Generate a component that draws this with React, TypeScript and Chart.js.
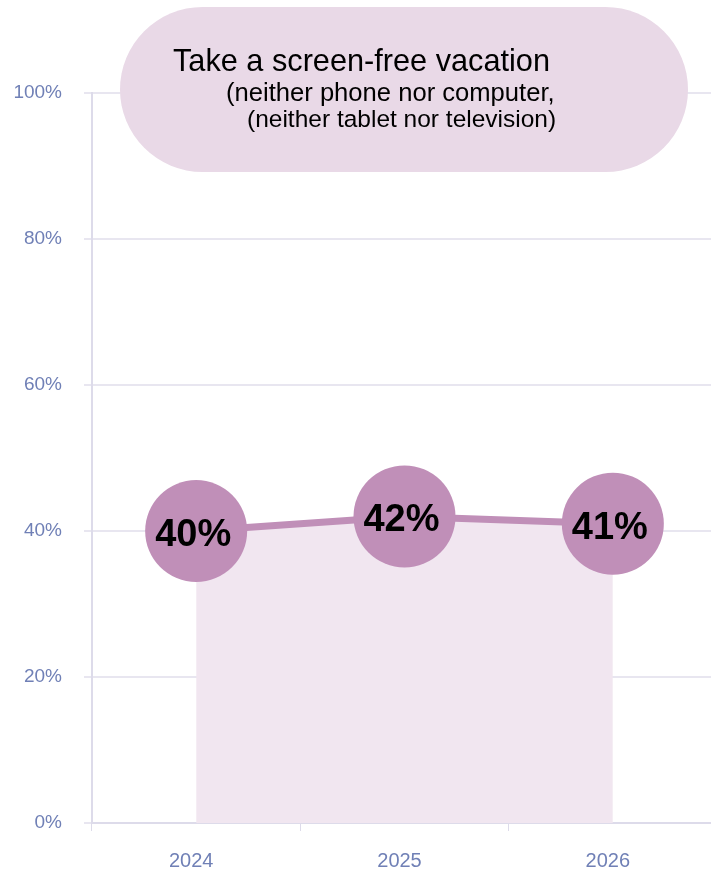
import React, { useEffect, useRef } from "react";
import { Chart, registerables } from "chart.js";

Chart.register(...registerables);

const categories: string[] = ["2024", "2025", "2026"];
const values: number[] = [40, 42, 41];
const yTickValues: number[] = [0, 20, 40, 60, 80, 100];
const titleLines: string[] = [
  "Take a screen-free vacation",
  "(neither phone nor computer,",
  "(neither tablet nor television)",
];

const FONT = '"Liberation Sans", Arial, Helvetica, sans-serif';
const AXIS_COLOR = "#7080b6";
const GRID_COLOR = "#e8e6f0";
const MAUVE = "#c08fb8";

const pillPlugin = {
  id: "pill",
  afterDraw(chart: any) {
    const ctx = chart.ctx;
    ctx.save();
    const x = 120, y = 7, w = 568, h = 165;
    ctx.fillStyle = "#e9d9e7";
    ctx.beginPath();
    (ctx as any).roundRect(x, y, w, h, h / 2);
    ctx.fill();
    ctx.fillStyle = "#000000";
    ctx.textBaseline = "alphabetic";
    ctx.textAlign = "left";
    ctx.font = `30.7px ${FONT}`;
    ctx.fillText(titleLines[0], 173, 71);
    ctx.font = `25.6px ${FONT}`;
    ctx.fillText(titleLines[1], 226, 101);
    ctx.font = `24.5px ${FONT}`;
    ctx.fillText(titleLines[2], 247, 127);
    ctx.restore();
  },
};

const labelPlugin = {
  id: "pointLabels",
  afterDatasetsDraw(chart: any) {
    const ctx = chart.ctx;
    const meta = chart.getDatasetMeta(0);
    ctx.save();
    ctx.font = `bold 38px ${FONT}`;
    ctx.fillStyle = "#000000";
    ctx.textAlign = "center";
    ctx.textBaseline = "alphabetic";
    meta.data.forEach((pt: any, i: number) => {
      ctx.fillText(values[i] + "%", pt.x - 3, pt.y + 15);
    });
    ctx.restore();
  },
};

export default function App() {
  const ref = useRef<HTMLCanvasElement | null>(null);
  useEffect(() => {
    document.body.style.overflow = "hidden";
    const canvas = ref.current!;
    const chart = new Chart(canvas, {
      type: "line",
      data: {
        labels: categories,
        datasets: [
          {
            data: values,
            borderColor: MAUVE,
            borderWidth: 7,
            backgroundColor: "#f1e6f0",
            fill: "origin",
            tension: 0,
            pointRadius: 51,
            pointHoverRadius: 51,
            pointBackgroundColor: MAUVE,
            pointBorderWidth: 0,
            pointBorderColor: MAUVE,
            clip: false as any,
          },
        ],
      },
      options: {
        animation: false,
        responsive: false,
        events: [],
        layout: { autoPadding: false, padding: { top: 93, right: 0, bottom: 0, left: 0 } },
        plugins: {
          legend: { display: false },
          tooltip: { enabled: false },
          title: { display: false },
        },
        scales: {
          x: {
            type: "category",
            offset: true,
            grid: {
              offset: true,
              drawOnChartArea: false,
              drawTicks: true,
              tickLength: 8,
              color: "#dddbea",
            },
            border: { color: "#dddbea", width: 2 },
            ticks: {
              color: AXIS_COLOR,
              font: { family: FONT, size: 20 },
              padding: 18,
              labelOffset: -5,
            },
            afterFit(scale: any) {
              scale.height = 48;
            },
          },
          y: {
            min: 0,
            max: 100,
            afterBuildTicks(scale: any) {
              scale.ticks = yTickValues.map((v) => ({ value: v }));
            },
            grid: {
              color: GRID_COLOR,
              tickLength: 8,
              lineWidth: 2,
            },
            border: { color: "#dddbea", width: 2 },
            ticks: {
              color: AXIS_COLOR,
              font: { family: FONT, size: 19 },
              padding: 22,
              callback: (v: any) => v + "%",
            },
            afterFit(scale: any) {
              scale.width = 92;
            },
          },
        },
      },
      plugins: [pillPlugin, labelPlugin],
    });
    return () => chart.destroy();
  }, []);
  return (
    <div
      style={{
        position: "absolute",
        left: 0,
        top: 0,
        width: 711,
        height: 871,
        overflow: "hidden",
        background: "#ffffff",
      }}
    >
      <canvas ref={ref} width={717} height={871} style={{ width: 717, height: 871 }} />
    </div>
  );
}
